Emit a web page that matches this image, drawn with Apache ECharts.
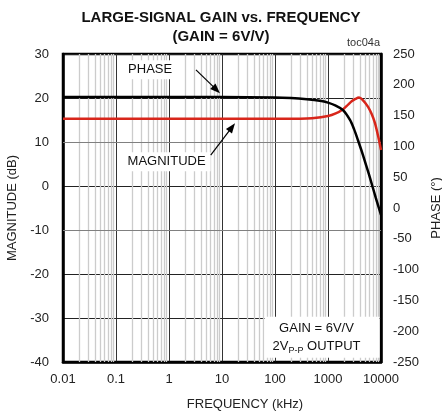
<!DOCTYPE html>
<html><head><meta charset="utf-8">
<script src="https://cdn.jsdelivr.net/npm/echarts@6/dist/echarts.min.js"></script>
<style>html,body{margin:0;padding:0;background:#fff}#c{width:442px;height:413px}</style>
</head><body><div id="c"></div>
<script>
// ---- data ----
const xTickLabels = ['0.01', '0.1', '1', '10', '100', '1000', '10000'];
const magFreq = [0.01, 1, 100, 300, 500, 1000, 1400, 1900, 2400, 2840, 3300, 3850, 4500, 5700, 6700, 7700, 8800, 10000];
const magDb   = [15.3, 15.3, 15.3, 15.3, 15.4, 15.9, 16.5, 17.4, 18.5, 19.3, 19.8, 20.1, 19.6, 18.0, 16.3, 14.3, 11.4, 8.2];
const phFreq  = [0.01, 1, 10, 100, 200, 400, 700, 1000, 1400, 1920, 2600, 3100, 3680, 4570, 5300, 6200, 8000, 10000];
const phDeg   = [180, 180, 180, 179.5, 178.5, 176.5, 174, 171, 166, 159, 143, 128, 110, 86, 68, 49, 16, -11];
const minorFreqs = [];
[0.01, 0.1, 1, 10, 100, 1000].forEach(d => { for (let k = 2; k <= 9; k++) minorFreqs.push(d * k); });
const grayDbLines = [10, -10];
// annotations (data coordinates: freq kHz, dB)
const phaseLabel = { text: 'PHASE', at: [0.44, 26.4] };
const magLabel = { text: 'MAGNITUDE', at: [0.9, 5.5] };
const arrows = [
  [3.23, 26.4, 9.16, 21.1],   // PHASE arrow: from -> to
  [6.12, 7.0, 17.6, 14.25]    // MAGNITUDE arrow
];
const boxAt = [771, -34.4];

const chart = echarts.init(document.getElementById('c'));
const FONT = 'Liberation Sans, Arial, sans-serif';
const fmtX = v => {
  const i = Math.round(Math.log10(v)) + 2;
  return xTickLabels[i] !== undefined ? xTickLabels[i] : '';
};
function renderArrow(params, api) {
  const p1 = api.coord([api.value(0), api.value(1)]);
  const p2 = api.coord([api.value(2), api.value(3)]);
  const dx = p2[0] - p1[0], dy = p2[1] - p1[1];
  const len = Math.sqrt(dx * dx + dy * dy);
  const ux = dx / len, uy = dy / len;
  const hl = 10, hw = 3.8;
  const bx = p2[0] - ux * hl, by = p2[1] - uy * hl;
  return {
    type: 'group',
    children: [
      { type: 'line', shape: { x1: p1[0], y1: p1[1], x2: bx + ux, y2: by + uy }, style: { stroke: '#000', lineWidth: 1.2 } },
      { type: 'polygon', shape: { points: [[p2[0], p2[1]], [bx - uy * hw, by + ux * hw], [bx + uy * hw, by - ux * hw]] },
        style: { fill: '#000' } }
    ]
  };
}
chart.setOption({
  animation: false,
  textStyle: { fontFamily: FONT },
  title: [
    { text: 'LARGE-SIGNAL GAIN vs. FREQUENCY\n(GAIN = 6V/V)', left: 'center', top: 8, padding: 0,
      textStyle: { fontFamily: FONT, fontSize: 15, fontWeight: 'bold', color: '#111', lineHeight: 19 } },
    { text: 'toc04a', right: 62, top: 37, padding: 0,
      textStyle: { fontFamily: FONT, fontSize: 11, fontWeight: 'normal', color: '#333' } }
  ],
  grid: { left: 63, right: 61, top: 54, bottom: 51, show: true, borderColor: '#000', borderWidth: 2.5,
    backgroundColor: '#fff', containLabel: false, outerBoundsMode: 'none' },
  xAxis: {
    type: 'log', logBase: 10, min: 0.01, max: 10000,
    name: 'FREQUENCY (kHz)', nameLocation: 'middle', nameGap: 36,
    nameTextStyle: { fontSize: 13, color: '#222', fontFamily: FONT, padding: [0, 0, 0, 46] },
    axisLine: { onZero: false, lineStyle: { color: '#000', width: 2.5 } },
    axisTick: { show: false },
    axisLabel: { formatter: fmtX, fontSize: 13, color: '#222', margin: 11, fontFamily: FONT },
    splitLine: { show: true, lineStyle: { color: '#333', width: 1 } }
  },
  yAxis: [
    { type: 'value', min: -40, max: 30, interval: 10, position: 'left',
      name: 'MAGNITUDE (dB)', nameLocation: 'middle', nameGap: 40, nameRotate: 90,
      nameTextStyle: { fontSize: 13, color: '#222', fontFamily: FONT },
      axisLine: { show: true, onZero: false, lineStyle: { color: '#000', width: 2.5 } },
      axisTick: { show: false },
      axisLabel: { fontSize: 13, color: '#222', margin: 14, fontFamily: FONT },
      splitLine: { show: true, lineStyle: { color: '#222', width: 1 } } },
    { type: 'value', min: -250, max: 250, interval: 50, position: 'right',
      name: 'PHASE (°)', nameLocation: 'middle', nameGap: 46, nameRotate: 90,
      nameTextStyle: { fontSize: 13, color: '#222', fontFamily: FONT },
      axisLine: { show: true, onZero: false, lineStyle: { color: '#000', width: 2.5 } },
      axisTick: { show: false },
      axisLabel: { fontSize: 13, color: '#222', margin: 12, fontFamily: FONT },
      splitLine: { show: false } }
  ],
  series: [
    { name: 'grid', type: 'line', data: [], z: 1, silent: true,
      markLine: { z: 1, silent: true, symbol: ['none', 'none'], label: { show: false },
        data: minorFreqs.map(f => ({ xAxis: f, lineStyle: { color: '#cccccc', width: 1.3, type: 'solid' } }))
          .concat(grayDbLines.map(v => ({ yAxis: v, lineStyle: { color: '#808080', width: 1.2, type: 'solid' } }))) } },
    { name: 'annot', type: 'line', data: [], z: 3, silent: true,
      markPoint: { z: 3, silent: true, symbol: 'rect', symbolSize: 1, itemStyle: { color: 'rgba(0,0,0,0)' },
        data: [
          { coord: phaseLabel.at, label: { show: true, position: 'inside', formatter: phaseLabel.text, fontSize: 13, color: '#111', backgroundColor: '#fff', padding: [3, 5] } },
          { coord: magLabel.at, label: { show: true, position: 'inside', formatter: magLabel.text, fontSize: 13, color: '#111', backgroundColor: '#fff', padding: [3, 5] } },
          { coord: boxAt, label: { show: true, position: 'inside', backgroundColor: '#fff', padding: [3, 19, 2, 8], align: 'center',
              formatter: '{a|GAIN = 6V/V}\n{a|2V}{s|P-P}{a| OUTPUT}',
              rich: { a: { fontSize: 13, color: '#111', lineHeight: 18, fontFamily: FONT },
                      s: { fontSize: 9, color: '#111', lineHeight: 18, padding: [7, 0, 0, 0], fontFamily: FONT } } } }
        ] } },
    { name: 'arrows', type: 'custom', xAxisIndex: 0, yAxisIndex: 0, z: 4, silent: true,
      renderItem: renderArrow, encode: { x: [0, 2], y: [1, 3] }, data: arrows, clip: false },
    { name: 'MAGNITUDE', type: 'line', yAxisIndex: 0, z: 5, smooth: 0.3, showSymbol: false,
      lineStyle: { color: '#d8261b', width: 2.5 }, itemStyle: { color: '#d8261b' },
      data: magFreq.map((f, i) => [f, magDb[i]]) },
    { name: 'PHASE', type: 'line', yAxisIndex: 1, z: 6, smooth: 0.3, showSymbol: false,
      lineStyle: { color: '#000', width: 2.5 }, itemStyle: { color: '#000' },
      data: phFreq.map((f, i) => [f, phDeg[i]]) }
  ]
});
</script></body></html>
